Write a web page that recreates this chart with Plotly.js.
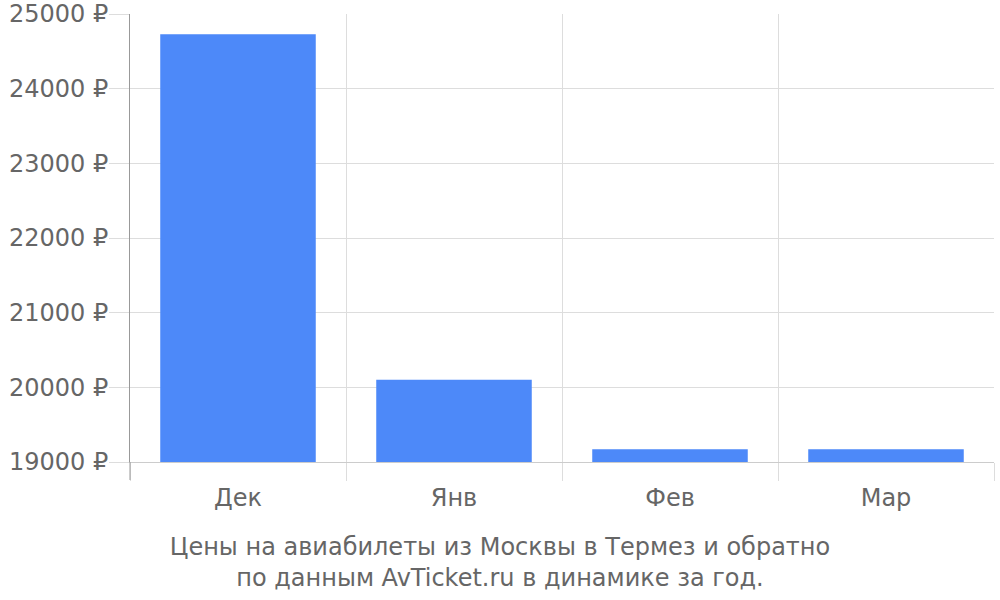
<!DOCTYPE html>
<html><head><meta charset="utf-8">
<script src="https://cdn.plot.ly/plotly-3.0.1.min.js"></script>
<style>html,body{margin:0;padding:0;background:#fff}</style>
</head><body>
<div id="chart" style="width:1000px;height:600px"></div>
<script>
const months = ["Дек", "Янв", "Фев", "Мар"];
const prices = [24730, 20100, 19170, 19170];
const yTicks = [19000, 20000, 21000, 22000, 23000, 24000, 25000];
const yTickLabels = yTicks.map(v => v + " ₽");
const titleText = "Цены на авиабилеты из Москвы в Термез и обратно<br>по данным AvTicket.ru в динамике за год.";

const font = {family: "DejaVu Sans", size: 24, color: "#666666"};
Plotly.newPlot("chart", [{
  type: "bar",
  x: months,
  y: prices,
  marker: {color: "#4d89f9"},
  hoverinfo: "none"
}], {
  width: 1000, height: 600,
  margin: {l: 130, r: 6, t: 14, b: 138},
  paper_bgcolor: "#ffffff", plot_bgcolor: "#ffffff",
  font: font,
  bargap: 0.28,
  showlegend: false,
  title: {
    text: titleText, font: font,
    xref: "container", yref: "container",
    x: 0.5, xanchor: "center",
    y: 1 - 555/600, yanchor: "middle"
  },
  xaxis: {
    type: "category",
    tickson: "boundaries",
    ticks: "outside", ticklen: 18, tickcolor: "#dddddd", tickwidth: 1,
    ticklabelstandoff: 14,
    showgrid: true, gridcolor: "#dddddd", gridwidth: 1,
    showline: true, linecolor: "#cccccc", linewidth: 1,
    tickfont: font
  },
  yaxis: {
    range: [19000, 25000],
    tickvals: yTicks, ticktext: yTickLabels,
    ticks: "outside", ticklen: 20, tickcolor: "#dddddd",
    ticklabelstandoff: -4,
    showgrid: true, gridcolor: "#dddddd", gridwidth: 1,
    showline: true, linecolor: "#999999", linewidth: 1,
    zeroline: false,
    tickfont: font
  },
  shapes: [{
    type: "line", xref: "paper", yref: "paper",
    x0: 0, x1: 0, y0: 0, y1: -18/448,
    line: {color: "#999999", width: 1}
  }]
}, {displayModeBar: false, staticPlot: true});
</script>
</body></html>
